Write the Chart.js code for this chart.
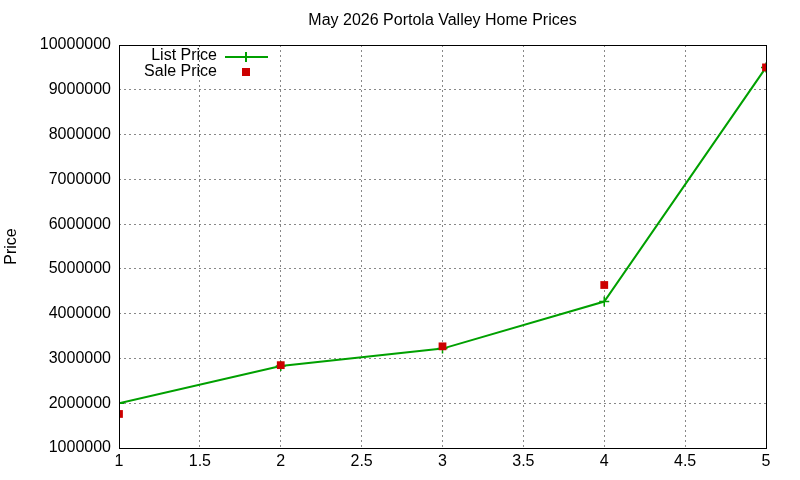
<!DOCTYPE html>
<html>
<head>
<meta charset="utf-8">
<script src="https://cdn.jsdelivr.net/npm/chart.js@4"></script>
<style>body{margin:0;background:#fff}</style>
</head>
<body>
<canvas id="myChart" width="800" height="480"></canvas>
<script>
const bedrooms = [1, 2, 3, 4, 5];
const listPrice = [2000000, 2830000, 3220000, 4270000, 9500000];
const salePrice = [1760000, 2850000, 3270000, 4640000, 9500000];
const chartTitle = "May 2026 Portola Valley Home Prices";
const yTitle = "Price";
const font = "Liberation Sans";

const green = "rgb(0,160,0)";
const red = "rgb(204,0,0)";

const gnuplotLook = {
    id: "gnuplotLook",
    afterDraw(chart) {
        const c = chart.ctx, a = chart.chartArea;
        c.save();
        c.strokeStyle = "#000";
        c.lineWidth = 1;
        c.strokeRect(a.left + 0.5, a.top + 0.5, a.right - a.left, a.bottom - a.top);
        c.fillStyle = "#000";
        c.font = "16px '" + font + "'";
        c.textAlign = "center";
        c.textBaseline = "middle";
        c.fillText(chartTitle, (a.left + a.right) / 2, 21);
        c.translate(12, (a.top + a.bottom) / 2);
        c.rotate(-Math.PI / 2);
        c.fillText(yTitle, 0, 0);
        c.restore();
        // legend
        c.save();
        c.font = "16px '" + font + "'";
        c.textAlign = "right";
        c.textBaseline = "middle";
        c.fillStyle = "#000";
        c.fillText("List Price", 217, 56);
        c.fillText("Sale Price", 217, 72);
        c.strokeStyle = green;
        c.lineWidth = 2;
        c.beginPath();
        c.moveTo(225, 57); c.lineTo(268, 57);
        c.moveTo(246, 52); c.lineTo(246, 62);
        c.stroke();
        c.fillStyle = red;
        c.fillRect(242, 68, 8, 8);
        c.restore();
    }
};

new Chart(document.getElementById("myChart").getContext("2d"), {
    type: "line",
    data: {
        datasets: [
            {
                label: "List Price",
                order: 1,
                data: bedrooms.map((x, i) => ({x: x, y: listPrice[i]})),
                borderColor: green,
                borderWidth: 2,
                pointStyle: "cross",
                pointRadius: 5,
                pointBorderWidth: 1.5,
                lineTension: 0
            },
            {
                label: "Sale Price",
                order: 0,
                data: bedrooms.map((x, i) => ({x: x, y: salePrice[i]})),
                showLine: false,
                pointStyle: "rect",
                pointRadius: 5.5,
                backgroundColor: red,
                borderColor: red,
                borderWidth: 0
            }
        ]
    },
    options: {
        responsive: false,
        animation: false,
        layout: {padding: {top: 45, right: 34, left: 0, bottom: 0}},
        plugins: {legend: {display: false}, tooltip: {enabled: false}},
        scales: {
            x: {
                type: "linear", min: 1, max: 5,
                afterFit: s => { s.height = 32; },
                ticks: {stepSize: 0.5, color: "#000", font: {family: font, size: 16}, padding: 4, callback: v => String(v)},
                grid: {color: "#888", tickLength: 0, drawTicks: false},
                border: {display: false, dash: [2, 3]}
            },
            y: {
                min: 1000000, max: 10000000,
                afterFit: s => { s.width = 119; },
                ticks: {stepSize: 1000000, color: "#000", font: {family: font, size: 16}, padding: 8, callback: v => String(v)},
                grid: {color: "#888", drawTicks: false},
                border: {display: false, dash: [2, 3]}
            }
        }
    },
    plugins: [gnuplotLook]
});
</script>
</body>
</html>
